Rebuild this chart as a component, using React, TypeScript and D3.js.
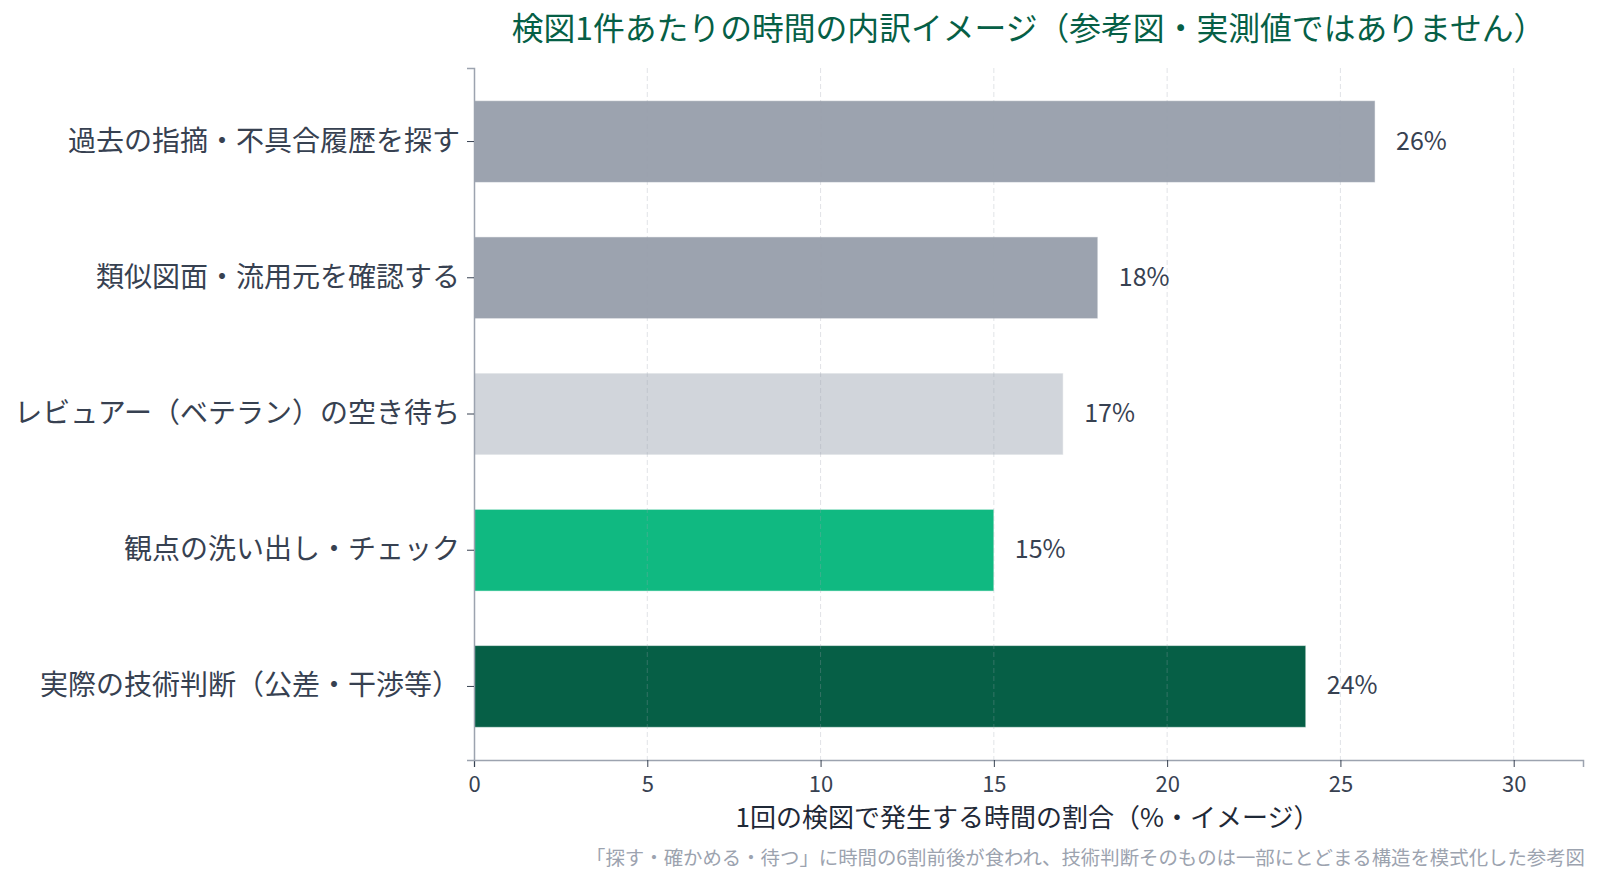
import { useEffect, useRef } from 'react';
import * as d3 from 'd3';

const categories = [
  '過去の指摘・不具合履歴を探す',
  '類似図面・流用元を確認する',
  'レビュアー（ベテラン）の空き待ち',
  '観点の洗い出し・チェック',
  '実際の技術判断（公差・干渉等）',
];
const shares = [26, 18, 17, 15, 24];
const barColors = ['#9ca3af', '#9ca3af', '#d1d5db', '#10b981', '#065f46'];
const xTicks = [0, 5, 10, 15, 20, 25, 30];

const title = '検図1件あたりの時間の内訳イメージ（参考図・実測値ではありません）';
const xLabel = '1回の検図で発生する時間の割合（%・イメージ）';
const footnote =
  '「探す・確かめる・待つ」に時間の6割前後が食われ、技術判断そのものは一部にとどまる構造を模式化した参考図';

const FONT = '"Noto Sans CJK JP", "Noto Sans", sans-serif';

export default function App() {
  const svgRef = useRef<SVGSVGElement>(null);
  const width = 1600;
  const height = 883;

  useEffect(() => {
    if (!svgRef.current) return;
    const svg = d3.select(svgRef.current);
    svg.selectAll('*').remove();

    const margin = { top: 68, right: 17, bottom: 123, left: 474 };
    const innerW = width - margin.left - margin.right;
    const innerH = height - margin.top - margin.bottom;

    const x = d3.scaleLinear().domain([0, 32]).range([0, innerW]);
    const y = d3
      .scaleBand()
      .domain(categories)
      .range([0, innerH])
      .paddingInner(0.4)
      .paddingOuter(0.24);

    svg
      .append('rect')
      .attr('width', width)
      .attr('height', height)
      .attr('fill', '#ffffff');

    const g = svg
      .append('g')
      .attr('transform', `translate(${margin.left},${margin.top})`);

    // bars
    g.selectAll('.bar')
      .data(shares)
      .enter()
      .append('rect')
      .attr('class', 'bar')
      .attr('x', 0)
      .attr('y', (_d, i) => y(categories[i]) ?? 0)
      .attr('width', (d) => x(d))
      .attr('height', y.bandwidth())
      .attr('fill', (_d, i) => barColors[i])
      .attr('stroke', '#ffffff')
      .attr('stroke-opacity', 0.5)
      .attr('stroke-width', 1);

    // dashed grid on top of the bars
    g.selectAll('.grid')
      .data(xTicks.filter((t) => t > 0))
      .enter()
      .append('line')
      .attr('class', 'grid')
      .attr('x1', (d) => x(d))
      .attr('x2', (d) => x(d))
      .attr('y1', 0)
      .attr('y2', innerH)
      .attr('stroke', '#9ca3af')
      .attr('stroke-opacity', 0.3)
      .attr('stroke-width', 1)
      .attr('stroke-dasharray', '5,3');

    // value labels
    g.selectAll('.value')
      .data(shares)
      .enter()
      .append('text')
      .attr('class', 'value')
      .attr('x', (d) => x(d) + 21)
      .attr('y', (_d, i) => (y(categories[i]) ?? 0) + y.bandwidth() / 2 - 3)
      .attr('dominant-baseline', 'central')
      .style('font-family', FONT)
      .style('font-size', '25px')
      .style('fill', '#374151')
      .text((d) => `${d}%`);

    // x axis
    const xAxis = g
      .append('g')
      .attr('transform', `translate(0,${innerH})`)
      .call(
        d3
          .axisBottom(x)
          .tickValues(xTicks)
          .tickSize(7)
          .tickPadding(9)
          .tickFormat((d) => `${d}`)
      );
    xAxis.select('.domain').attr('stroke', '#9ca3af').attr('stroke-width', 1.5);
    xAxis.selectAll('.tick line').attr('stroke', '#374151');
    xAxis
      .selectAll('.tick text')
      .style('font-family', FONT)
      .style('font-size', '22px')
      .style('fill', '#374151');

    // y axis
    const yAxis = g
      .append('g')
      .call(d3.axisLeft(y).tickSize(7).tickPadding(7));
    yAxis.select('.domain').attr('stroke', '#9ca3af').attr('stroke-width', 1.5);
    yAxis.selectAll('.tick line').attr('stroke', '#374151');
    yAxis
      .selectAll('.tick text')
      .style('font-family', FONT)
      .style('font-size', '28px')
      .style('fill', '#374151');

    // title
    svg
      .append('text')
      .attr('x', margin.left + innerW / 2)
      .attr('y', 40)
      .attr('text-anchor', 'middle')
      .style('font-family', FONT)
      .style('font-size', '31.8px')
      .style('font-weight', '400')
      .style('fill', '#065f46')
      .text(title);

    // axis label
    svg
      .append('text')
      .attr('x', margin.left + innerW / 2 - 1)
      .attr('y', 827)
      .attr('text-anchor', 'middle')
      .style('font-family', FONT)
      .style('font-size', '26px')
      .style('fill', '#1f2937')
      .text(xLabel);

    // footnote
    svg
      .append('text')
      .attr('x', 1585)
      .attr('y', 865)
      .attr('text-anchor', 'end')
      .style('font-family', FONT)
      .style('font-size', '19.4px')
      .style('fill', '#9ca3af')
      .text(footnote);
  }, []);

  return (
    <svg
      ref={svgRef}
      width={width}
      height={height}
      style={{ position: 'absolute', left: 0, top: 0 }}
    />
  );
}
